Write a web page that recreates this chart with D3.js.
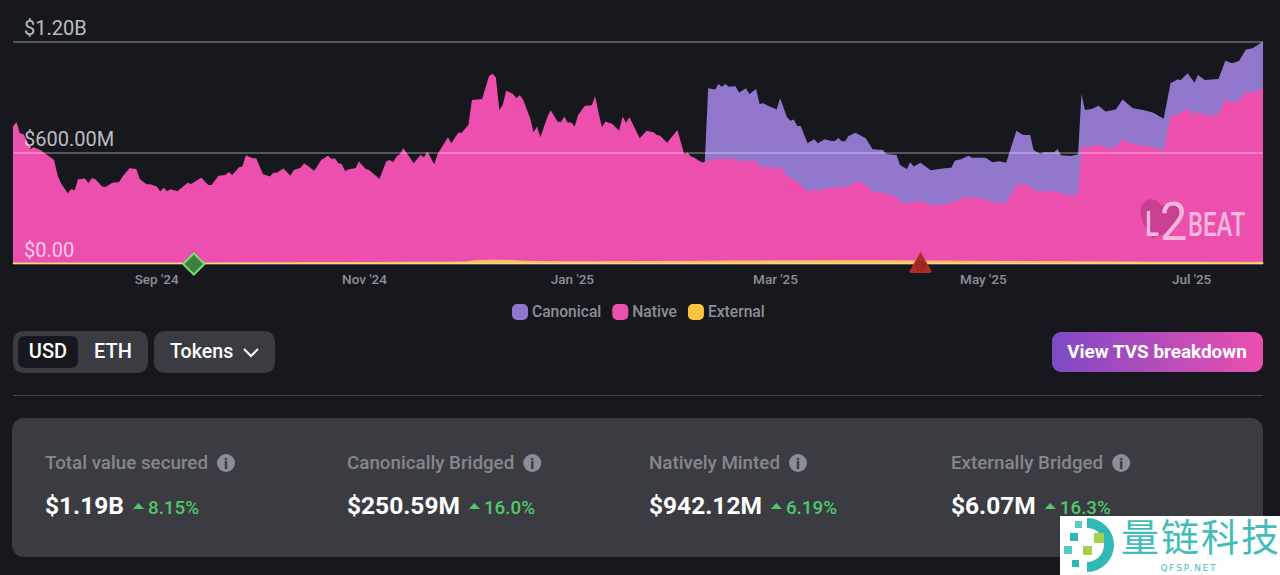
<!DOCTYPE html>
<html>
<head>
<meta charset="utf-8">
<script src="https://cdn.jsdelivr.net/npm/d3@7"></script>
<style>
  html, body { margin: 0; padding: 0; background: #17181d; overflow: hidden; }
  svg { display: block; font-family: Roboto, sans-serif; }
  .axis .domain { display: none; }
</style>
</head>
<body>
<svg id="chart" width="1280" height="575"></svg>
<script>
// top edge of the pink area (native + external), day index from 21 Jul 2024, $M
const nativeDays = [0,1,2,3,4,5,6,8,10,12,13,14,16,17,18,19,20,21,22,23,24,26,27,29,31,32,34,36,37,39,40,42,43,44,45,46,48,49,51,52,55,57,58,60,62,63,64,66,67,68,70,71,73,74,75,76,77,79,81,82,84,85,88,90,92,93,94,95,96,97,98,100,101,103,104,107,109,110,111,112,113,114,117,119,120,121,123,124,127,128,130,131,133,134,137,139,140,141,142,143,144,146,147,148,149,151,152,153,154,156,157,159,160,161,162,163,164,165,167,169,170,171,172,173,175,177,178,179,180,183,185,187,188,189,191,194,196,197,198,199,201,202,203,205,208,211,213,214,216,217,218,220,223,224,226,227,230,232,234,235,237,241,244,246,248,251,254,258,259,261,265,268,271,275,278,284,286,290,293,295,296,299,305,307,311,312,315,317,319,322,324,327,330,334,336,338,340,343,345,346,348,352,354,356,358,360,362,365];
const nativeValues = [740,765,704,700,668,617,628,614,587,560,479,434,380,403,394,457,455,461,434,461,457,416,414,437,441,470,515,511,457,428,428,416,389,410,391,401,391,405,437,430,464,425,425,475,479,495,479,520,524,585,569,569,482,477,470,491,491,513,475,506,517,542,502,560,583,565,569,542,538,499,509,515,551,511,506,457,553,560,547,578,592,623,542,587,574,605,536,592,682,650,707,707,749,884,889,1013,1026,1006,830,857,934,916,893,911,884,785,709,740,682,790,828,767,763,794,761,763,740,803,853,855,904,812,736,767,754,718,794,761,790,677,718,709,695,691,653,722,590,599,578,572,547,549,554,563,567,563,547,558,551,558,518,527,506,529,470,466,425,389,401,392,405,412,416,443,439,389,383,358,335,326,338,313,317,335,360,349,331,326,425,425,428,389,392,371,371,632,632,644,626,628,671,644,637,623,610,794,806,839,797,821,803,803,889,871,878,928,923,947];

// top edge of the whole stack once canonical starts, $M
const canonicalDays = [202,203,205,206,207,208,209,211,212,214,215,217,218,219,221,223,224,226,227,228,229,230,232,234,235,237,239,240,241,242,243,244,246,249,251,254,255,258,259,261,262,263,265,268,272,274,275,277,279,280,284,286,288,290,293,295,297,298,300,301,304,305,306,309,311,312,313,315,317,319,322,324,327,330,333,336,338,340,341,343,345,346,348,352,354,356,358,360,362,365];
const canonicalValues = [549,947,941,970,956,970,956,958,923,947,916,943,862,866,848,832,893,790,772,779,743,743,650,671,650,671,662,662,679,661,661,689,707,677,617,614,592,587,533,511,547,524,545,504,515,518,556,565,583,572,572,547,553,544,718,695,695,614,592,601,601,619,585,581,590,916,830,835,853,821,833,887,839,830,815,783,974,995,992,1028,977,1019,992,997,1096,1082,1094,1157,1163,1200];

const externalDays = [0,60,100,118,132,135,140,143,150,160,171,200,220,250,280,310,340,365];
const externalValues = [3,3,5,7,8,15,18,17,12,9,9,12,14,15,12,9,7,6];

const xTickDays = [41.8,102.5,163.2,222.5,283.2,344];
const xTickLabels = ["Sep '24","Nov '24","Jan '25","Mar '25","May '25","Jul '25"];
const yTickValues = [0,600,1200];
const yTickLabels = ["$0.00","$600.00M","$1.20B"];

const legendNames = ["Canonical","Native","External"];
const legendColors = ["#9077cc","#ec4fae","#fdc440"];

const milestoneDiamondDays = [52.8];
const milestoneTriangleDays = [265];

const statLabels = ["Total value secured","Canonically Bridged","Natively Minted","Externally Bridged"];
const statValues = ["$1.19B","$250.59M","$942.12M","$6.07M"];
const statChanges = ["8.15%","16.0%","6.19%","16.3%"];

const svg = d3.select("#chart");

const defs = svg.append("defs");
const grad = defs.append("linearGradient").attr("id", "btn");
grad.append("stop").attr("offset", "0%").attr("stop-color", "#7d4ac6");
grad.append("stop").attr("offset", "100%").attr("stop-color", "#ec4fae");

const xScale = d3.scaleLinear().domain([0, 365]).range([13, 1263]);
const yScale = d3.scaleLinear().domain([0, 1200]).range([263.5, 41.5]);

const area = d3.area()
  .x(d => xScale(d[0]))
  .y0(yScale(0))
  .y1(d => yScale(d[1]));

// purple sits behind, pink and yellow go over it
svg.append("path").attr("d", area(d3.zip(canonicalDays, canonicalValues))).attr("fill", "#9077cc");
svg.append("path").attr("d", area(d3.zip(nativeDays, nativeValues))).attr("fill", "#ec4fae");
svg.append("path")
  .attr("d", area(d3.zip(externalDays, externalValues)))
  .attr("fill", "#fbc45e")
  .attr("stroke", "#fbc45e")
  .attr("stroke-width", 1);

// logo
const logo = svg.append("g").attr("fill", "#f6b7dc");
logo.append("path")
  .attr("d", "M1153 238 C1146 228 1140 220 1140.5 211 C1141 203 1147 198.5 1153 199.5 C1157 200 1160 203 1162 206 C1166 203 1171 202 1175 204 C1180 207 1181 214 1178 220 C1174 228 1166 234 1153 238 Z")
  .attr("fill", "#c93f91");
logo.append("text").attr("transform", "translate(1145,236) scale(0.72,1)").attr("font-size", 36).attr("font-weight", 500).text("L");
logo.append("text").attr("transform", "translate(1160,240) scale(0.9,1)").attr("font-size", 54).attr("font-weight", 400).text("2");
logo.append("text").attr("transform", "translate(1188,236) scale(0.7,1)").attr("font-size", 34).attr("font-weight", 500).text("BEAT");

// y axis, grid lines run across with the labels sitting above them
const yAxis = d3.axisRight(yScale)
  .tickValues(yTickValues)
  .tickSize(1250)
  .tickFormat((d, i) => yTickLabels[i]);
const yG = svg.append("g").attr("class", "axis").attr("transform", "translate(13,0)").call(yAxis);
yG.selectAll("line").attr("stroke", "rgba(255,255,255,0.55)");
yG.selectAll("text")
  .attr("x", 11).attr("dy", -7).attr("text-anchor", "start")
  .attr("font-size", 20).attr("font-family", "Roboto, sans-serif")
  .attr("fill", "rgba(255,255,255,0.72)");

const xAxis = d3.axisBottom(xScale)
  .tickValues(xTickDays)
  .tickSize(0)
  .tickFormat((d, i) => xTickLabels[i]);
const xG = svg.append("g").attr("class", "axis").attr("transform", "translate(0,263.5)").call(xAxis);
xG.selectAll("text")
  .attr("y", 11).attr("font-size", 13.5).attr("font-weight", 500)
  .attr("font-family", "Roboto, sans-serif").attr("fill", "#8d8f98");

// milestones
svg.selectAll(".diamond").data(milestoneDiamondDays).join("path")
  .attr("class", "diamond")
  .attr("d", d3.symbol(d3.symbolSquare, 225)())
  .attr("transform", d => `translate(${xScale(d)},264) rotate(45)`)
  .attr("fill", "#3f7d42").attr("stroke", "#72e36b").attr("stroke-width", 2);
svg.selectAll(".triangle").data(milestoneTriangleDays).join("path")
  .attr("class", "triangle")
  .attr("transform", d => `translate(${xScale(d)},264)`)
  .attr("d", "M0 -12 L11 7 Q11.5 9 9 9 L-9 9 Q-11.5 9 -11 7 Z")
  .attr("fill", "#b02a26");
[2, 4.5].forEach((r, i) => {
  svg.selectAll(".triangleDot" + i).data(milestoneTriangleDays).join("circle")
    .attr("class", "triangleDot" + i)
    .attr("cx", d => xScale(d)).attr("cy", 266).attr("r", r)
    .attr("fill", "none").attr("stroke", "#6b1f1c").attr("stroke-width", 1.2).attr("stroke-dasharray", "1 1.2");
});

// legend
let legendX = 512;
legendNames.forEach((name, i) => {
  svg.append("rect").attr("x", legendX).attr("y", 304).attr("width", 16).attr("height", 16).attr("rx", 5)
    .attr("fill", legendColors[i]);
  const t = svg.append("text").attr("x", legendX + 20).attr("y", 317)
    .attr("font-size", 15.6).attr("font-weight", 500).attr("fill", "#8d8f98").text(name);
  legendX += 20 + t.node().getComputedTextLength() + 11;
});

// controls
svg.append("rect").attr("x", 13).attr("y", 331).attr("width", 135).attr("height", 42).attr("rx", 10).attr("fill", "#3a3c42");
svg.append("rect").attr("x", 18).attr("y", 336).attr("width", 60).attr("height", 32).attr("rx", 7).attr("fill", "#17181d");
svg.append("text").attr("x", 48).attr("y", 358).attr("text-anchor", "middle").attr("font-size", 20).attr("font-weight", 500).attr("fill", "#fff").text("USD");
svg.append("text").attr("x", 113).attr("y", 358).attr("text-anchor", "middle").attr("font-size", 20).attr("font-weight", 500).attr("fill", "#fff").text("ETH");
svg.append("rect").attr("x", 154).attr("y", 331).attr("width", 121).attr("height", 42).attr("rx", 10).attr("fill", "#3a3c42");
svg.append("text").attr("x", 170).attr("y", 358).attr("font-size", 19.6).attr("font-weight", 500).attr("fill", "#fff").text("Tokens");
svg.append("path").attr("d", "M244 349 L251 356 L258 349").attr("fill", "none").attr("stroke", "#fff").attr("stroke-width", 2);

svg.append("rect").attr("x", 1052).attr("y", 332).attr("width", 211).attr("height", 40).attr("rx", 9).attr("fill", "url(#btn)");
svg.append("text").attr("x", 1157).attr("y", 358).attr("text-anchor", "middle").attr("font-size", 18.9).attr("font-weight", 700).attr("fill", "#fff").text("View TVS breakdown");

svg.append("line").attr("x1", 13).attr("x2", 1263).attr("y1", 395.5).attr("y2", 395.5).attr("stroke", "#45474d");

// stats card
svg.append("rect").attr("x", 12).attr("y", 418).attr("width", 1251).attr("height", 139).attr("rx", 12).attr("fill", "#3a3c42");
statLabels.forEach((label, i) => {
  const sx = 45 + i * 302;
  const lt = svg.append("text").attr("x", sx).attr("y", 469).attr("font-size", 18.8).attr("font-weight", 500).attr("fill", "#85878f").text(label);
  const ix = sx + lt.node().getComputedTextLength() + 18;
  svg.append("circle").attr("cx", ix).attr("cy", 463).attr("r", 9).attr("fill", "#8b8d9b");
  svg.append("text").attr("x", ix).attr("y", 469).attr("text-anchor", "middle").attr("font-size", 14).attr("font-weight", 900).attr("fill", "#3a3c42").text("i");
  const vt = svg.append("text").attr("x", sx).attr("y", 514).attr("font-size", 24.5).attr("font-weight", 700).attr("fill", "#fff").text(statValues[i]);
  const ax = sx + vt.node().getComputedTextLength() + 9;
  svg.append("path").attr("d", `M${ax} 509 L${ax + 11} 509 L${ax + 5.5} 503 Z`).attr("fill", "#4fc868");
  svg.append("text").attr("x", ax + 15).attr("y", 514).attr("font-size", 18.8).attr("font-weight", 500).attr("fill", "#4fc868").text(statChanges[i]);
});

// corner stamp
const stamp = svg.append("g");
stamp.append("rect").attr("x", 1060).attr("y", 516).attr("width", 220).attr("height", 59).attr("fill", "#fff");
stamp.append("path").attr("d", "M1087 518 A27 27 0 0 1 1087 572 L1087 562 A17 17 0 0 0 1087 528 Z").attr("fill", "#2fb8b4");
stamp.append("rect").attr("x", 1094).attr("y", 533).attr("width", 10).attr("height", 10).attr("fill", "#a6cf4a");
stamp.append("rect").attr("x", 1083).attr("y", 546).attr("width", 9).attr("height", 9).attr("fill", "#a6cf4a");
stamp.append("rect").attr("x", 1070).attr("y", 533).attr("width", 8).attr("height", 8).attr("fill", "#2fb8b4");
stamp.append("rect").attr("x", 1064).attr("y", 546).attr("width", 8).attr("height", 8).attr("fill", "#5cc9c5");
stamp.append("rect").attr("x", 1075).attr("y", 521).attr("width", 7).attr("height", 7).attr("fill", "#5cc9c5");
stamp.append("rect").attr("x", 1072).attr("y", 560).attr("width", 7).attr("height", 7).attr("fill", "#2fb8b4");
stamp.append("text").attr("x", 1121).attr("y", 550.5).attr("font-size", 38).attr("letter-spacing", 2).attr("font-family", "'Noto Sans CJK SC'").attr("fill", "#43bdb9").text("量链科技");
stamp.append("text").attr("x", 1189).attr("y", 571).attr("font-size", 9).attr("letter-spacing", 1.8).attr("text-anchor", "middle").attr("font-family", "'DejaVu Sans'").attr("fill", "#43bdb9").text("QFSP.NET");
</script>
</body>
</html>
